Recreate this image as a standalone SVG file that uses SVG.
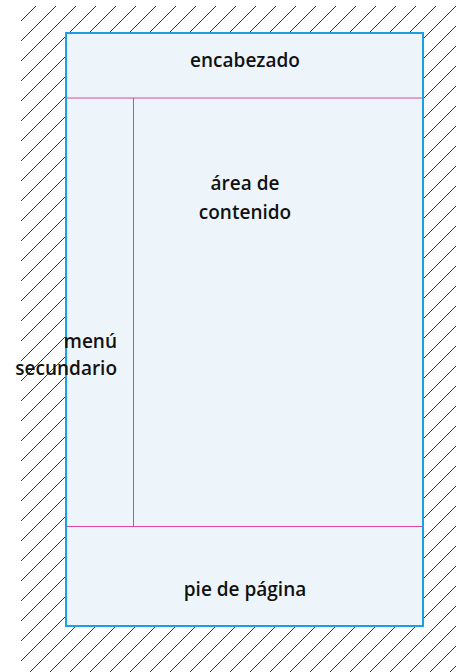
<svg xmlns="http://www.w3.org/2000/svg" width="456" height="672" viewBox="0 0 456 672">
<style>
.t{font-family:"Open Sans","Noto Sans",sans-serif;font-size:19px;font-weight:600;fill:#111;}
.sep{stroke:#e0439b;stroke-width:1;fill:none;}
</style>
<defs>
<pattern id="hatch" patternUnits="userSpaceOnUse" x="2" y="0" width="20" height="20">
<path d="M0,20 L20,0 M-2,2 L2,-2 M18,22 L22,18" stroke="#222" stroke-width="0.9"/>
</pattern>
</defs>
<rect x="21" y="6" width="435" height="666" fill="url(#hatch)"/>
<g id="page">
<rect x="66" y="33" width="357" height="593" fill="#eef5fa" stroke="#1ba1e2" stroke-width="2"/>
</g>
<g id="connectors">
<line class="sep" x1="67" y1="98" x2="422" y2="98" stroke="#e87ab8" stroke-width="1.5"/>
<line class="sep" x1="133.5" y1="98" x2="133.5" y2="526"/>
<line class="sep" x1="67" y1="526.5" x2="422" y2="526.5"/>
</g>
<g id="encabezado"><text class="t" x="245" y="67" text-anchor="middle">encabezado</text></g>
<g id="contenido"><text class="t" x="245" y="190" text-anchor="middle">área de</text><text class="t" x="245" y="219" text-anchor="middle">contenido</text></g>
<g id="menu"><text class="t" x="117" y="348" text-anchor="end">menú</text><text class="t" x="117" y="375" text-anchor="end">secundario</text></g>
<g id="pie"><text class="t" x="245" y="596" text-anchor="middle">pie de página</text></g>
</svg>
